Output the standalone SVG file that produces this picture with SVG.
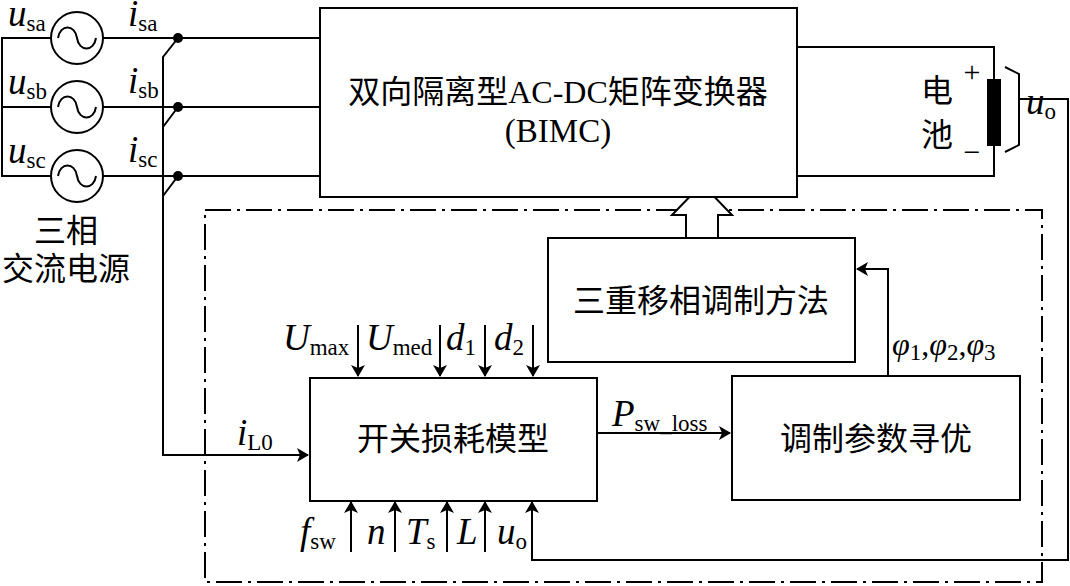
<svg xmlns="http://www.w3.org/2000/svg" width="1070" height="586" viewBox="0 0 1070 586">
<defs>
<marker id="ar" markerWidth="12" markerHeight="14" refX="11" refY="7" orient="auto" markerUnits="userSpaceOnUse"><path d="M0,0 L12,7 L0,14 L3,7 Z" fill="#000"/></marker>
<style>
.l{fill:none;stroke:#000;stroke-width:2}
.a{fill:none;stroke:#000;stroke-width:2;marker-end:url(#ar)}
.b{fill:#fff;stroke:#000;stroke-width:2}
.t{font-family:"Liberation Serif",serif;font-size:37px}
.i{font-style:italic}
.s{font-size:23px;font-style:normal}
.c{font-family:"Liberation Serif","Noto Sans CJK SC",serif;font-size:32px}
</style>
</defs>
<g id="connectors">
<rect x="205" y="210" width="837" height="372" fill="none" stroke="#000" stroke-width="2" stroke-dasharray="26,6,3,6"/>
<path class="l" d="M51,38H2V176H51M103,38H320M51,107H2M103,107H320M103,176H320"/>
<circle cx="178" cy="38" r="5"/><circle cx="178" cy="107" r="5"/><circle cx="178" cy="176" r="5"/>
<path class="a" d="M178,38L163,57V455H308"/>
<path class="l" d="M178,107L163,127M178,176L163,196"/>
<path class="l" d="M797,47H994V176H797"/>
<path class="l" d="M1005,67L1019,74V145L1005,152"/>
<path class="a" d="M1019,99H1068V560H532V502"/>
<path class="a" d="M597,433H730"/>
<path class="a" d="M888,376V269H857"/>
<path class="a" d="M358,325V376"/><path class="a" d="M440,325V376"/><path class="a" d="M485,325V376"/><path class="a" d="M533,325V376"/>
<path class="a" d="M351,552V502"/><path class="a" d="M395,552V502"/><path class="a" d="M447,552V502"/><path class="a" d="M485,552V502"/>
<path d="M686,238V215H672L702,184L732,215H718V238" fill="#fff" stroke="#000" stroke-width="2"/>
</g>
<g id="sources">
<circle class="b" cx="77" cy="38" r="26"/><circle class="b" cx="77" cy="107" r="26"/><circle class="b" cx="77" cy="176" r="26"/>
<path class="l" d="M58,38C60,24 75,24 77,38S94,52 96,38M58,107C60,93 75,93 77,107S94,121 96,107M58,176C60,162 75,162 77,176S94,190 96,176"/>
<text class="t i" x="8" y="26">u<tspan class="s" dy="5">sa</tspan></text>
<text class="t i" x="8" y="94">u<tspan class="s" dy="5">sb</tspan></text>
<text class="t i" x="8" y="163">u<tspan class="s" dy="5">sc</tspan></text>
<text class="t i" x="128" y="26">i<tspan class="s" dy="5">sa</tspan></text>
<text class="t i" x="128" y="93">i<tspan class="s" dy="5">sb</tspan></text>
<text class="t i" x="128" y="162">i<tspan class="s" dy="5">sc</tspan></text>
<text class="c" x="66" y="242" text-anchor="middle">三相</text>
<text class="c" x="66" y="280" text-anchor="middle">交流电源</text>
</g>
<g id="bimc">
<rect class="b" x="320" y="8" width="477" height="189"/>
<text class="c" x="558" y="103" text-anchor="middle">双向隔离型AC-DC矩阵变换器</text>
<text class="t" x="558" y="142" text-anchor="middle" style="font-size:33px">(BIMC)</text>
</g>
<g id="battery">
<rect x="987" y="79" width="14" height="67" fill="#000"/>
<text class="t" x="972" y="82" text-anchor="middle" style="font-size:30px">+</text>
<text class="t" x="972" y="162" text-anchor="middle" style="font-size:30px">−</text>
<text class="c" x="937" y="102" text-anchor="middle">电</text>
<text class="c" x="937" y="146" text-anchor="middle">池</text>
<text class="t i" x="1026" y="114">u<tspan class="s" dy="5">o</tspan></text>
</g>
<g id="tps">
<rect class="b" x="548" y="238" width="307" height="124"/>
<text class="c" x="701" y="312" text-anchor="middle">三重移相调制方法</text>
</g>
<g id="loss">
<rect class="b" x="310" y="378" width="287" height="123"/>
<text class="c" x="453" y="450" text-anchor="middle">开关损耗模型</text>
<text class="t i" x="283" y="350">U<tspan class="s" dy="5">max</tspan></text>
<text class="t i" x="366" y="350">U<tspan class="s" dy="5">med</tspan></text>
<text class="t i" x="446" y="350">d<tspan class="s" dy="5">1</tspan></text>
<text class="t i" x="494" y="350">d<tspan class="s" dy="5">2</tspan></text>
<text class="t i" x="237" y="445">i<tspan class="s" dy="5">L0</tspan></text>
<text class="t i" x="300" y="544">f<tspan class="s" dy="5">sw</tspan></text>
<text class="t i" x="367" y="544">n</text>
<text class="t i" x="406" y="544">T<tspan class="s" dy="5">s</tspan></text>
<text class="t i" x="457" y="544">L</text>
<text class="t i" x="497" y="544">u<tspan class="s" dy="5">o</tspan></text>
<text class="t i" x="612" y="426">P<tspan class="s" dy="5">sw_loss</tspan></text>
</g>
<g id="opt">
<rect class="b" x="732" y="376" width="288" height="124"/>
<text class="c" x="876" y="450" text-anchor="middle">调制参数寻优</text>
<text class="t i" x="892" y="355" style="font-size:32px">φ<tspan class="s" dy="5">1</tspan><tspan dy="-5" font-style="normal">,</tspan>φ<tspan class="s" dy="5">2</tspan><tspan dy="-5" font-style="normal">,</tspan>φ<tspan class="s" dy="5">3</tspan></text>
</g>
</svg>
